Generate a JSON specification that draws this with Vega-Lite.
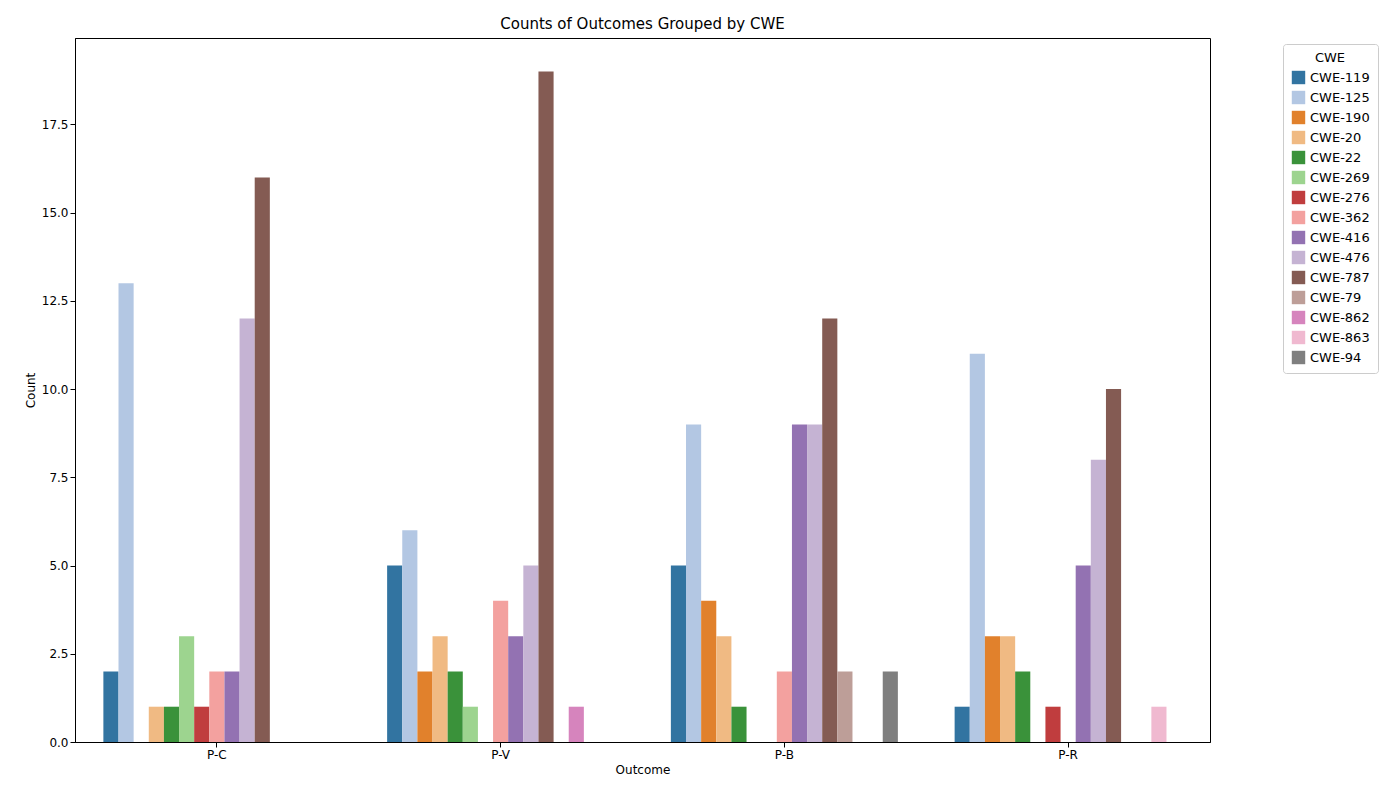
{"$schema":"https://vega.github.io/schema/vega-lite/v6.json","width":1135,"height":704,"autosize":"none","padding":{"left":75,"top":38,"right":190,"bottom":58},"background":"white",
"title":{"text":"Counts of Outcomes Grouped by CWE","fontSize":15,"fontWeight":"normal","font":"DejaVu Sans","offset":6,"color":"black"},
"config":{"font":"DejaVu Sans","view":{"stroke":"black"},"axis":{"labelFont":"DejaVu Sans","titleFont":"DejaVu Sans","labelFontSize":12,"titleFontSize":12,"titleFontWeight":"normal","labelColor":"black","titleColor":"black","domainColor":"black","tickColor":"black","grid":false}},
"data":{"values":[
{"o":"P-C","c":"CWE-119","n":2},{"o":"P-C","c":"CWE-125","n":13},{"o":"P-C","c":"CWE-20","n":1},{"o":"P-C","c":"CWE-22","n":1},{"o":"P-C","c":"CWE-269","n":3},{"o":"P-C","c":"CWE-276","n":1},{"o":"P-C","c":"CWE-362","n":2},{"o":"P-C","c":"CWE-416","n":2},{"o":"P-C","c":"CWE-476","n":12},{"o":"P-C","c":"CWE-787","n":16},
{"o":"P-V","c":"CWE-119","n":5},{"o":"P-V","c":"CWE-125","n":6},{"o":"P-V","c":"CWE-190","n":2},{"o":"P-V","c":"CWE-20","n":3},{"o":"P-V","c":"CWE-22","n":2},{"o":"P-V","c":"CWE-269","n":1},{"o":"P-V","c":"CWE-362","n":4},{"o":"P-V","c":"CWE-416","n":3},{"o":"P-V","c":"CWE-476","n":5},{"o":"P-V","c":"CWE-787","n":19},{"o":"P-V","c":"CWE-862","n":1},
{"o":"P-B","c":"CWE-119","n":5},{"o":"P-B","c":"CWE-125","n":9},{"o":"P-B","c":"CWE-190","n":4},{"o":"P-B","c":"CWE-20","n":3},{"o":"P-B","c":"CWE-22","n":1},{"o":"P-B","c":"CWE-362","n":2},{"o":"P-B","c":"CWE-416","n":9},{"o":"P-B","c":"CWE-476","n":9},{"o":"P-B","c":"CWE-787","n":12},{"o":"P-B","c":"CWE-79","n":2},{"o":"P-B","c":"CWE-94","n":2},
{"o":"P-R","c":"CWE-119","n":1},{"o":"P-R","c":"CWE-125","n":11},{"o":"P-R","c":"CWE-190","n":3},{"o":"P-R","c":"CWE-20","n":3},{"o":"P-R","c":"CWE-22","n":2},{"o":"P-R","c":"CWE-276","n":1},{"o":"P-R","c":"CWE-416","n":5},{"o":"P-R","c":"CWE-476","n":8},{"o":"P-R","c":"CWE-787","n":10},{"o":"P-R","c":"CWE-863","n":1}
]},
"mark":{"type":"bar"},
"encoding":{
"x":{"field":"o","type":"nominal","title":"Outcome","sort":["P-C","P-V","P-B","P-R"],"scale":{"paddingInner":0.2,"paddingOuter":0.1},"axis":{"labelAngle":0,"titleFontWeight":"normal"}},
"xOffset":{"field":"c","type":"nominal","scale":{"domain":["CWE-119","CWE-125","CWE-190","CWE-20","CWE-22","CWE-269","CWE-276","CWE-362","CWE-416","CWE-476","CWE-787","CWE-79","CWE-862","CWE-863","CWE-94"],"paddingInner":0,"paddingOuter":0}},
"y":{"field":"n","type":"quantitative","title":"Count","scale":{"domain":[0,19.95],"nice":false},"axis":{"values":[0,2.5,5,7.5,10,12.5,15,17.5],"format":".1f"}},
"color":{"field":"c","type":"nominal","title":"CWE","scale":{"domain":["CWE-119","CWE-125","CWE-190","CWE-20","CWE-22","CWE-269","CWE-276","CWE-362","CWE-416","CWE-476","CWE-787","CWE-79","CWE-862","CWE-863","CWE-94"],"range":["#3274a1","#b3c7e3","#e1812c","#f0ba83","#3a923a","#9dd48f","#c03d3e","#f3a19f","#9372b2","#c5b3d3","#845b53","#bd9e98","#d684bd","#f0b9d0","#7f7f7f"]},
"legend":{"orient":"none","legendX":1208,"legendY":6,"strokeColor":"#cccccc","padding":8,"cornerRadius":3,"symbolType":"square","symbolSize":180,"labelFontSize":13,"titleFontSize":13,"titleFontWeight":"normal","titleAnchor":"middle","rowPadding":5,"labelColor":"black","titleColor":"black"}}
}}
